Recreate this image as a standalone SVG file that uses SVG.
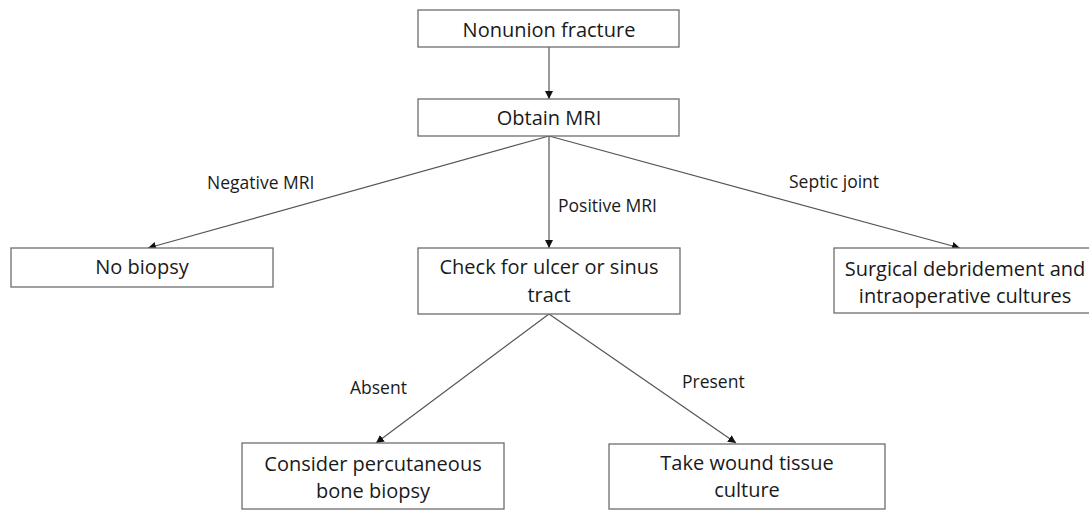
<svg xmlns="http://www.w3.org/2000/svg" width="1089" height="510" viewBox="0 0 1089 510">
<style>
.box{fill:#fff;stroke:#6e6e6e;stroke-width:1.3}
.t{font-family:"Open Sans","Liberation Sans",sans-serif;font-size:20px;fill:#1a1a1a;text-anchor:middle}
.l{font-family:"Open Sans","Liberation Sans",sans-serif;font-size:17.5px;fill:#1a1a1a}
.c{stroke:#555;stroke-width:1.2;fill:none;marker-end:url(#ah)}
</style>
<defs>
<marker id="ah" viewBox="0 0 10 10" refX="10" refY="5" markerWidth="8" markerHeight="8" markerUnits="userSpaceOnUse" orient="auto">
<path d="M0,0 L10,5 L0,10 z" fill="#111"/>
</marker>
</defs>
<rect width="1089" height="510" fill="#fff"/>
<g id="connectors">
<line class="c" x1="549" y1="47" x2="549" y2="99"/>
<line class="c" x1="549" y1="136" x2="148" y2="248"/>
<line class="c" x1="549" y1="136" x2="549" y2="248"/>
<line class="c" x1="549" y1="136" x2="960" y2="248"/>
<line class="c" x1="549" y1="314" x2="376" y2="443"/>
<line class="c" x1="549" y1="314" x2="736" y2="443"/>
<text class="l" x="207" y="189">Negative MRI</text>
<text class="l" x="558" y="212">Positive MRI</text>
<text class="l" x="789" y="188">Septic joint</text>
<text class="l" x="350" y="394">Absent</text>
<text class="l" x="682" y="388">Present</text>
</g>
<g id="n1"><rect class="box" x="418" y="10" width="261" height="37"/><text class="t" x="549" y="37">Nonunion fracture</text></g>
<g id="n2"><rect class="box" x="418" y="99" width="261" height="37"/><text class="t" x="549" y="125">Obtain MRI</text></g>
<g id="n3"><rect class="box" x="11" y="248" width="262" height="39"/><text class="t" x="142" y="274">No biopsy</text></g>
<g id="n4"><rect class="box" x="418" y="248" width="262" height="66"/><text class="t" x="549" y="274">Check for ulcer or sinus</text><text class="t" x="549" y="302">tract</text></g>
<g id="n5"><rect class="box" x="834" y="248" width="262" height="65"/><text class="t" x="965" y="276">Surgical debridement and</text><text class="t" x="965" y="303">intraoperative cultures</text></g>
<g id="n6"><rect class="box" x="242" y="443" width="262" height="66"/><text class="t" x="373" y="471">Consider percutaneous</text><text class="t" x="373" y="498">bone biopsy</text></g>
<g id="n7"><rect class="box" x="609" y="444" width="276" height="65"/><text class="t" x="747" y="470">Take wound tissue</text><text class="t" x="747" y="497">culture</text></g>
</svg>
